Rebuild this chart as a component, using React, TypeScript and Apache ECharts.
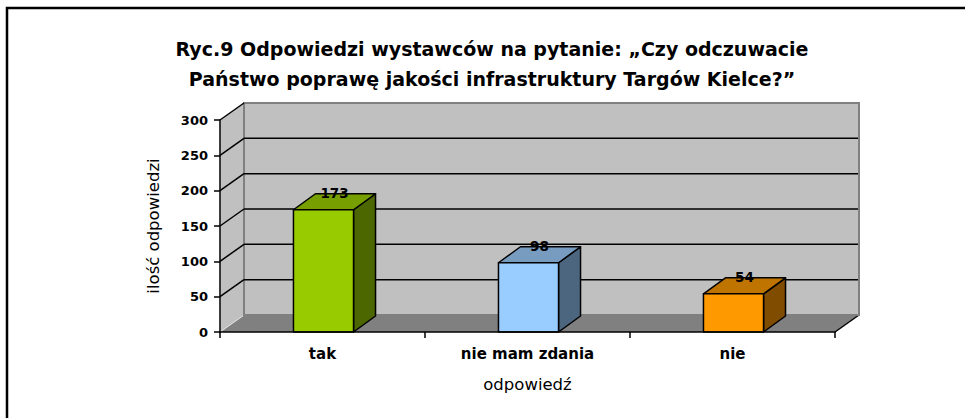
import React, { useEffect, useRef } from "react";
import * as echarts from "echarts";

const categories = ["tak", "nie mam zdania", "nie"];
const values = [173, 98, 54];
const yTicks = [0, 50, 100, 150, 200, 250, 300];
const titleLines = [
  "Ryc.9 Odpowiedzi wystawców na pytanie: „Czy odczuwacie",
  "Państwo poprawę jakości infrastruktury Targów Kielce?”",
];
const xName = "odpowiedź";
const yName = "ilość odpowiedzi";

const frontColors = ["#99CC00", "#99CCFF", "#FF9900"];
const topColors = ["#789F00", "#789CC0", "#C07400"];
const sideColors = ["#4C6600", "#4C6680", "#7F4C00"];

const WALL_DX = 24;
const WALL_DY = -17;
const BAR_DX = 22;
const BAR_DY = -16;
const FONT = "'DejaVu Sans', Verdana, sans-serif";

export default function App() {
  const ref = useRef<HTMLDivElement>(null);
  useEffect(() => {
    if (!ref.current) return;
    const chart = echarts.init(ref.current, null, { renderer: "svg" });
    const yMax = yTicks[yTicks.length - 1];

    const wallSeries = {
      type: "custom",
      z: 1,
      silent: true,
      data: [[0, 0]],
      renderItem: (params: any, api: any) => {
        const cs = params.coordSys;
        const x0 = cs.x;
        const x1 = cs.x + cs.width;
        const yb = api.coord([0, 0])[1];
        const yt = api.coord([0, yMax])[1];
        const children: any[] = [];
        children.push({
          type: "polygon",
          shape: {
            points: [
              [x0, yb],
              [x1, yb],
              [x1 + WALL_DX, yb + WALL_DY],
              [x0 + WALL_DX, yb + WALL_DY],
            ],
          },
          style: { fill: "#808080", stroke: "none" },
        });
        children.push({
          type: "line",
          shape: { x1: x0, y1: yb, x2: x0 + WALL_DX, y2: yb + WALL_DY },
          style: { stroke: "#A0A0A0", lineWidth: 1.5 },
        });
        children.push({
          type: "line",
          shape: { x1: x1, y1: yb, x2: x1 + WALL_DX, y2: yb + WALL_DY },
          style: { stroke: "#000", lineWidth: 1.5 },
        });
        children.push({
          type: "polygon",
          shape: {
            points: [
              [x0, yb],
              [x0, yt],
              [x0 + WALL_DX, yt + WALL_DY],
              [x0 + WALL_DX, yb + WALL_DY],
            ],
          },
          style: { fill: "#C0C0C0", stroke: "#E0E0E0", lineWidth: 1 },
        });
        children.push({
          type: "rect",
          shape: {
            x: x0 + WALL_DX,
            y: yt + WALL_DY,
            width: x1 - x0,
            height: yb - yt,
          },
          style: { fill: "#C0C0C0", stroke: "#808080", lineWidth: 2 },
        });
        yTicks.forEach((v) => {
          const y = api.coord([0, v])[1];
          if (v > 0 && v < yMax) {
            children.push({
              type: "line",
              shape: { x1: x0 + WALL_DX, y1: y + WALL_DY, x2: x1 + WALL_DX - 1, y2: y + WALL_DY },
              style: { stroke: "#000", lineWidth: 1.5 },
            });
          }
          if (v > 0) {
            children.push({
              type: "line",
              shape: { x1: x0, y1: y, x2: x0 + WALL_DX, y2: y + WALL_DY },
              style: { stroke: "#000", lineWidth: 1.5 },
            });
          }
        });
        return { type: "group", children };
      },
    };

    const barSeries = {
      type: "custom",
      z: 3,
      data: values.map((v, i) => [i, v]),
      renderItem: (params: any, api: any) => {
        const i = api.value(0);
        const v = api.value(1);
        const top = api.coord([i, v]);
        const base = api.coord([i, 0]);
        const w = api.size([1, 0])[0] * 0.293;
        const xl = top[0] - w / 2 + 1;
        const xr = xl + w;
        const yt = top[1];
        const yb = base[1];
        const stroke = { stroke: "#000", lineWidth: 1.5, lineJoin: "round" };
        return {
          type: "group",
          children: [
            {
              type: "polygon",
              shape: {
                points: [
                  [xr, yt],
                  [xr + BAR_DX, yt + BAR_DY],
                  [xr + BAR_DX, yb + BAR_DY],
                  [xr, yb],
                ],
              },
              style: { fill: sideColors[i], ...stroke },
            },
            {
              type: "polygon",
              shape: {
                points: [
                  [xl, yt],
                  [xr, yt],
                  [xr + BAR_DX, yt + BAR_DY],
                  [xl + BAR_DX, yt + BAR_DY],
                ],
              },
              style: { fill: topColors[i], ...stroke },
            },
            {
              type: "rect",
              shape: { x: xl, y: yt, width: w, height: yb - yt },
              style: { fill: frontColors[i], ...stroke },
            },
            {
              type: "text",
              x: (xl + xr) / 2 + BAR_DX / 2,
              y: yt + BAR_DY - 1,
              style: {
                text: String(v),
                fill: "#000",
                font: `bold 13.5px ${FONT}`,
                align: "center",
                verticalAlign: "middle",
              },
            },
          ],
        };
      },
    };

    chart.setOption({
      animation: false,
      backgroundColor: "#fff",
      title: {
        text: titleLines.join("\n"),
        left: 487,
        top: 29,
        textAlign: "center",
        textStyle: {
          fontFamily: FONT,
          fontWeight: "bold",
          fontSize: 19,
          lineHeight: 30,
          color: "#000",
        },
      },
      graphic: [
        {
          type: "rect",
          shape: { x: 7, y: 8, width: 1000, height: 500 },
          style: { fill: "none", stroke: "#000", lineWidth: 2.5 },
          silent: true,
        },
      ],
      grid: { left: 220, right: 130, top: 120, bottom: 86 },
      xAxis: {
        type: "category",
        data: categories,
        z: 10,
        axisLine: { lineStyle: { color: "#000", width: 1.5 } },
        axisTick: { show: true, length: 6, lineStyle: { color: "#000", width: 1.5 } },
        axisLabel: {
          margin: 14,
          fontFamily: FONT,
          fontWeight: "bold",
          fontSize: 15,
          color: "#000",
        },
        name: xName,
        nameLocation: "middle",
        nameGap: 44,
        nameTextStyle: { fontFamily: FONT, fontSize: 16.5, color: "#000" },
      },
      yAxis: {
        type: "value",
        min: 0,
        max: 300,
        interval: 50,
        z: 10,
        axisLine: { show: true, lineStyle: { color: "#000", width: 1.5 } },
        axisTick: { show: true, length: 6, lineStyle: { color: "#000", width: 1.5 } },
        splitLine: { show: false },
        axisLabel: {
          margin: 12,
          fontFamily: FONT,
          fontWeight: "bold",
          fontSize: 13,
          color: "#000",
        },
        name: yName,
        nameLocation: "middle",
        nameRotate: 90,
        nameGap: 58,
        nameTextStyle: { fontFamily: FONT, fontSize: 16.5, color: "#000" },
      },
      series: [wallSeries, barSeries],
    });
    return () => chart.dispose();
  }, []);
  return (
    <div
      ref={ref}
      style={{ position: "absolute", left: 0, top: 0, width: 965, height: 418 }}
    />
  );
}
